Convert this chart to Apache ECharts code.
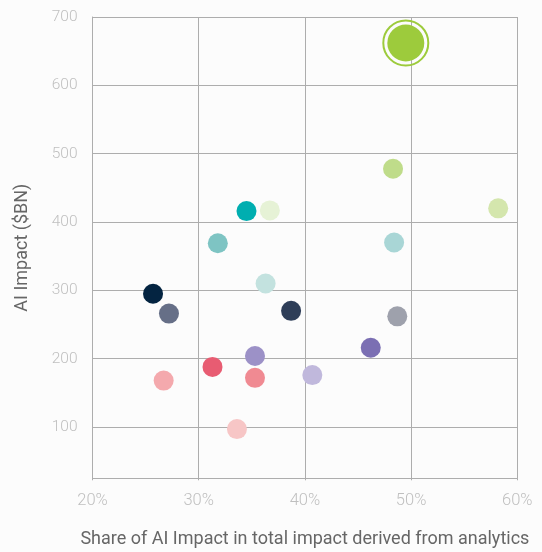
<!DOCTYPE html>
<html>
<head>
<meta charset="utf-8">
<script src="https://cdn.jsdelivr.net/npm/echarts@6/dist/echarts.min.js"></script>
<style>
  html, body { margin: 0; padding: 0; background: #fcfcfc; }
  #chart { width: 542px; height: 552px; }
</style>
</head>
<body>
<div id="chart"></div>
<script>
// share of AI impact from analytics (%), AI impact ($BN)
var shareValues = [49.5, 48.3, 58.2, 34.5, 36.7, 31.8, 48.4, 36.3, 38.7, 48.7, 46.2, 35.3, 31.3, 35.3, 40.7, 33.6, 25.7, 27.2, 26.7];
var impactValues = [662, 478, 420, 416, 417, 369, 370, 310, 270, 262, 216, 204, 188, 172, 176, 97, 295, 266, 168];
var pointColors = ['#9dcb3c', '#bfdc8a', '#d4e6ad', '#00aeb0', '#e6f2d6', '#7ec4c3', '#a9d6d6', '#c3e2df', '#2e3e58',
  '#9ea1ac', '#7b6fb3', '#9c91c7', '#e85c72', '#f08a92', '#c0b8dc', '#f7c6c6', '#042441', '#666f87', '#f4a9ad'];
var xTicks = [20, 30, 40, 50, 60];

var myChart = echarts.init(document.getElementById('chart'));

var points = shareValues.map(function(v, i) {
    return {
        value: [v, impactValues[i]],
        symbolSize: i === 0 ? 37 : 20,
        itemStyle: { color: pointColors[i], opacity: 1 }
    };
});

var option = {
    backgroundColor: '#fcfcfc',
    animation: false,
    grid: { left: 92.5, right: 24.7, top: 17, bottom: 73.7, containLabel: false, outerBoundsMode: 'none' },
    xAxis: {
        type: 'value',
        min: xTicks[0],
        max: xTicks[xTicks.length - 1],
        interval: 10,
        name: 'Share of AI Impact in total impact derived from analytics',
        nameLocation: 'middle',
        nameGap: 52,
        nameTextStyle: { color: '#666', fontSize: 18, fontFamily: 'Roboto' },
        axisLine: { show: true, lineStyle: { color: '#adadad', width: 1 } },
        axisTick: { show: true, length: 2, lineStyle: { color: '#adadad' } },
        axisLabel: { formatter: '{value}%', color: '#bfbfbf', fontSize: 16.5, fontFamily: 'Roboto', fontWeight: 300, margin: 14 },
        splitLine: { show: true, lineStyle: { color: '#adadad', width: 1 } }
    },
    yAxis: {
        type: 'value',
        min: 25,
        max: 700,
        splitNumber: 7,
        name: 'AI Impact ($BN)',
        nameLocation: 'middle',
        nameGap: 61,
        nameTextStyle: { color: '#666', fontSize: 18, fontFamily: 'Roboto' },
        axisLine: { show: true, lineStyle: { color: '#adadad', width: 1 } },
        axisTick: { show: false },
        axisLabel: { showMinLabel: false, color: '#bfbfbf', fontSize: 15.5, fontFamily: 'Roboto', fontWeight: 300, margin: 15 },
        splitLine: { show: true, lineStyle: { color: '#adadad', width: 1 } }
    },
    series: [
        {
            type: 'scatter',
            data: points
        },
        {
            // ring around the highlighted point
            type: 'scatter',
            data: [[shareValues[0], impactValues[0]]],
            symbolSize: 45,
            itemStyle: { color: 'rgba(0,0,0,0)', borderColor: '#9dcb3c', borderWidth: 2, opacity: 1 }
        }
    ]
};

myChart.setOption(option);
</script>
</body>
</html>
